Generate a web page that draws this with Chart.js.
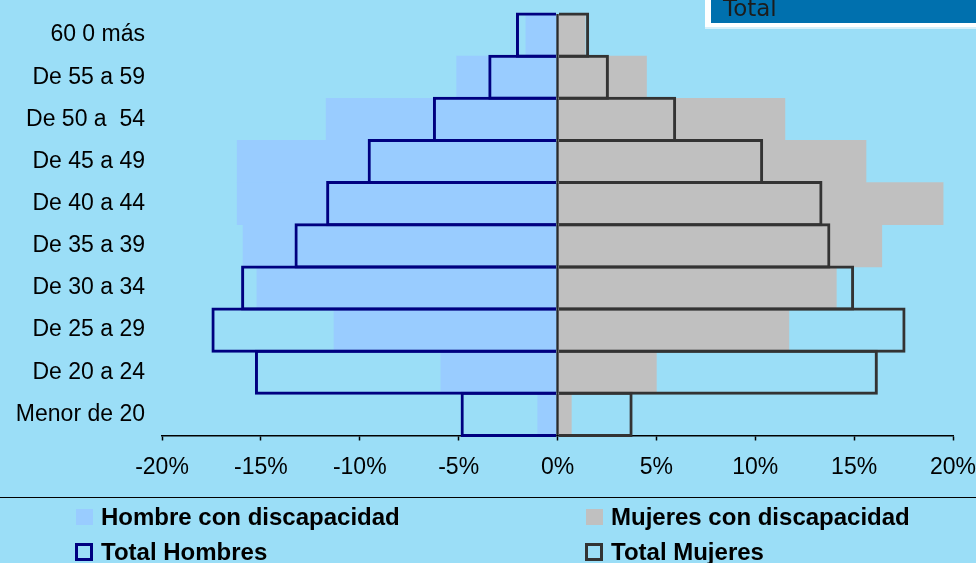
<!DOCTYPE html>
<html>
<head>
<meta charset="utf-8">
<script src="https://cdn.jsdelivr.net/npm/chart.js@4/dist/chart.umd.min.js"></script>
<style>
  html, body { margin: 0; padding: 0; }
  body { width: 976px; height: 563px; background: #9BDEF7; position: relative; overflow: hidden;
         font-family: "Liberation Sans", Arial, sans-serif; }
  #wrap { position: absolute; left: 0; top: 0; width: 976px; height: 563px; }
  .titlebox { position: absolute; left: 705px; top: -6px; width: 290px; height: 29px;
              background: #0070AE; border-left: 6px solid #fff; border-bottom: 4px solid #fff;
              box-shadow: 0 2px 0 #d6f0fb; box-sizing: content-box; }
  .titlebox span { position: absolute; left: 12px; top: 3px; font-family: "DejaVu Sans", Verdana, sans-serif;
                   font-size: 23px; line-height: 23px; color: #1c1c1c; }
  .sep { position: absolute; left: 0; top: 497px; width: 976px; height: 1px; background: #000; }
  .lg { position: absolute; font-weight: bold; font-size: 24px; line-height: 24px; color: #000; white-space: nowrap; }
  .sw { position: absolute; box-sizing: border-box; }
</style>
</head>
<body>
<div id="wrap"><canvas id="c" width="976" height="563"></canvas></div>
<div class="titlebox"><span>Total</span></div>
<div class="sep"></div>
<div id="legend"></div>
<script>
// ---- data (percent of population) ----
const categories = ['60 0 más', 'De 55 a 59', 'De 50 a  54', 'De 45 a 49', 'De 40 a 44',
                    'De 35 a 39', 'De 30 a 34', 'De 25 a 29', 'De 20 a 24', 'Menor de 20'];
const hombreDisc  = [-1.6, -5.1, -11.7, -16.2, -16.2, -15.9, -15.2, -11.3, -5.9, -1.0];
const mujeresDisc = [1.4, 4.5, 11.5, 15.6, 19.5, 16.4, 14.1, 11.7, 5.0, 0.7];
const totalHombres = [-2.1, -3.5, -6.3, -9.6, -11.7, -13.3, -16.0, -17.5, -15.3, -4.9];
const totalMujeres = [1.6, 2.6, 6.0, 10.4, 13.4, 13.8, 15.0, 17.6, 16.2, 3.8];
const xTicks = [-20, -15, -10, -5, 0, 5, 10, 15, 20];
const seriesNames = ['Hombre con discapacidad', 'Mujeres con discapacidad', 'Total Hombres', 'Total Mujeres'];

const colHDisc = '#99CCFF', colMDisc = '#C0C0C0', colTH = '#000080', colTM = '#333333';

const outlinePct = 1.072;

const chart = new Chart(document.getElementById('c'), {
  type: 'bar',
  data: {
    labels: categories,
    datasets: [
      { label: seriesNames[0], data: hombreDisc, backgroundColor: colHDisc, borderWidth: 0,
        barPercentage: 1, categoryPercentage: 1, grouped: false, order: 2 },
      { label: seriesNames[1], data: mujeresDisc, backgroundColor: colMDisc, borderWidth: 0,
        barPercentage: 1, categoryPercentage: 1, grouped: false, order: 2 },
      { label: seriesNames[2], data: totalHombres, backgroundColor: 'rgba(0,0,0,0)', borderColor: colTH,
        borderWidth: 3, borderSkipped: 'start', barPercentage: outlinePct, categoryPercentage: 1,
        grouped: false, order: 1, clip: false },
      { label: seriesNames[3], data: totalMujeres, backgroundColor: 'rgba(0,0,0,0)', borderColor: colTM,
        borderWidth: 3, borderSkipped: 'start', barPercentage: outlinePct, categoryPercentage: 1,
        grouped: false, order: 1, clip: false }
    ]
  },
  options: {
    indexAxis: 'y',
    responsive: false,
    animation: false,
    events: [],
    layout: { padding: { top: 14, right: 0, bottom: 0, left: 0 } },
    plugins: { legend: { display: false }, tooltip: { enabled: false } },
    scales: {
      x: {
        min: -20, max: 20, z: 1,
        afterBuildTicks: (s) => { s.ticks = xTicks.map(v => ({ value: v })); },
        afterFit: (s) => { s.height = 127.5; s.paddingRight = 23; },
        ticks: { color: '#000', padding: 13, maxRotation: 0,
                 font: { family: '"Liberation Sans", Arial, sans-serif', size: 23 },
                 callback: (v) => v + '%' },
        grid: { drawOnChartArea: true, drawTicks: true, tickLength: 5, tickWidth: 1.5, tickColor: '#000',
                color: (ctx) => (ctx.tick && ctx.tick.value === 0) ? '#2a2a2a' : 'rgba(0,0,0,0)',
                lineWidth: (ctx) => (ctx.tick && ctx.tick.value === 0) ? 3 : 1 },
        border: { display: true, color: '#000', width: 1.5 }
      },
      y: {
        afterFit: (s) => { s.width = 162; s.paddingTop = 0; s.paddingBottom = 0; },
        ticks: { color: '#000', padding: 17, autoSkip: false,
                 font: { family: '"Liberation Sans", Arial, sans-serif', size: 23 } },
        grid: { display: false, drawTicks: false },
        border: { display: false }
      }
    }
  }
});

// HTML legend, two columns
const legendItems = [
  { name: seriesNames[0], x: 76, row: 0, fill: colHDisc, border: null },
  { name: seriesNames[1], x: 586, row: 0, fill: colMDisc, border: null },
  { name: seriesNames[2], x: 76, row: 1, fill: 'transparent', border: colTH },
  { name: seriesNames[3], x: 586, row: 1, fill: 'transparent', border: colTM }
];
const lg = document.getElementById('legend');
legendItems.forEach(it => {
  const sw = document.createElement('div');
  sw.className = 'sw';
  const top = it.row === 0 ? 509 : 543;
  sw.style.left = (it.border ? it.x - 1 : it.x) + 'px';
  sw.style.top = top + 'px';
  sw.style.width = (it.border ? 18 : 17) + 'px';
  sw.style.height = (it.border ? 18 : 16) + 'px';
  sw.style.background = it.fill;
  if (it.border) sw.style.border = '3px solid ' + it.border;
  lg.appendChild(sw);
  const t = document.createElement('div');
  t.className = 'lg';
  t.style.left = (it.x + 25) + 'px';
  t.style.top = (it.row === 0 ? 505 : 540) + 'px';
  t.textContent = it.name;
  lg.appendChild(t);
});
</script>
</body>
</html>
